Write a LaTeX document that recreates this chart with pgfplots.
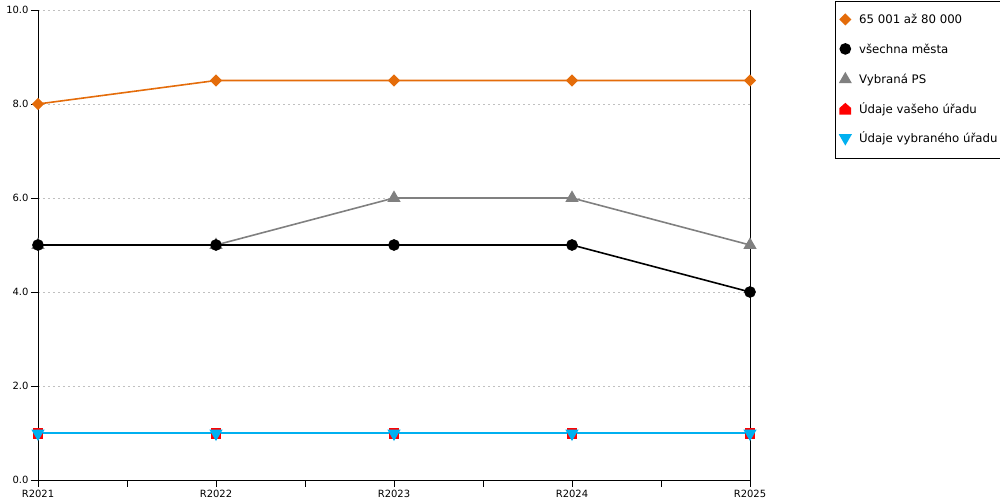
\documentclass[border=0pt]{standalone}
\usepackage{fontspec}
\setmainfont{DejaVu Sans}
\usepackage{pgfplots}
\pgfplotsset{compat=1.18}
\definecolor{corange}{RGB}{228,108,10}
\definecolor{cgray}{RGB}{128,128,128}
\definecolor{cblue}{RGB}{0,176,240}
\definecolor{cred}{RGB}{255,0,0}
\definecolor{cgrid}{RGB}{192,192,192}
\pgfdeclareplotmark{house}{%
  \pgfpathmoveto{\pgfqpoint{-0.85\pgfplotmarksize}{-0.8\pgfplotmarksize}}%
  \pgfpathlineto{\pgfqpoint{0.85\pgfplotmarksize}{-0.8\pgfplotmarksize}}%
  \pgfpathlineto{\pgfqpoint{0.85\pgfplotmarksize}{0.1\pgfplotmarksize}}%
  \pgfpathlineto{\pgfqpoint{0pt}{0.85\pgfplotmarksize}}%
  \pgfpathlineto{\pgfqpoint{-0.85\pgfplotmarksize}{0.1\pgfplotmarksize}}%
  \pgfpathclose
  \pgfusepathqfillstroke}
\begin{document}
\begin{tikzpicture}
\useasboundingbox (-38bp,-20bp) rectangle (962bp,480bp);
\begin{axis}[
  at={(0,0)}, anchor=south west,
  scale only axis, width=712bp, height=470bp,
  xmin=0, xmax=4, ymin=0, ymax=10,
  axis x line=bottom, axis y line=left,
  axis line style={-, black, line width=0.8bp},
  xtick={0,1,2,3,4},
  xticklabels={R2021,R2022,R2023,R2024,R2025},
  minor xtick={0.5,1.5,2.5,3.5},
  ytick={0,2,4,6,8,10},
  tick align=outside,
  major tick length=7bp, minor tick length=7bp,
  tick style={black, line width=0.8bp},
  ymajorgrids,
  grid style={cgrid, dash pattern=on 2bp off 3bp, line width=0.8bp},
  yticklabel style={/pgf/number format/fixed, /pgf/number format/fixed zerofill, /pgf/number format/precision=1, font=\fontsize{10}{12}\selectfont, xshift=1bp},
  xticklabel style={font=\fontsize{10}{12}\selectfont, yshift=0bp},
  /pgf/number format/assume math mode=true,
  clip=false,
  legend style={at={(1.119,1.019)}, anchor=north west, draw=black, line width=0.8bp,
    font=\fontsize{11.8}{13}\selectfont, row sep=17bp, inner xsep=5bp, inner ysep=13bp,
    nodes={inner xsep=0bp, inner ysep=0bp, text height=9bp, text depth=3bp}},
  legend cell align=left,
  legend image code/.code={\path (0bp,0bp) (14bp,0bp); \draw[#1] plot coordinates {(1bp,1.5bp)};},
  every axis plot/.append style={line width=1.6bp},
]
\addlegendimage{only marks, mark=square*, mark options={rotate=45}, color=corange, mark size=3.5bp}
\addlegendentry{65 001 až 80 000}
\addlegendimage{only marks, mark=*, color=black, mark size=5bp}
\addlegendentry{všechna města}
\addlegendimage{only marks, mark=triangle*, color=cgray, mark size=6bp}
\addlegendentry{Vybraná PS}
\addlegendimage{only marks, mark=house, color=cred, mark size=6bp}
\addlegendentry{Údaje vašeho úřadu}
\addlegendimage{only marks, mark=triangle*, mark options={rotate=180}, color=cblue, mark size=6bp}
\addlegendentry{Údaje vybraného úřadu}

\draw[black, line width=0.8bp] (rel axis cs:1,0) -- (rel axis cs:1,1);

\addplot[forget plot, color=corange, mark=square*, mark options={rotate=45}, mark size=3.6bp] coordinates {(0,8) (1,8.5) (2,8.5) (3,8.5) (4,8.5)};
\addplot[forget plot, color=cgray, mark=triangle*, mark size=6bp] coordinates {(0,5) (1,5) (2,6) (3,6) (4,5)};
\addplot[forget plot, color=black, mark=*, mark size=5bp] coordinates {(0,5) (1,5) (2,5) (3,5) (4,4)};
\addplot[forget plot, color=cred, mark=square*, mark size=4.5bp, mark options={yshift=-0.5bp}] coordinates {(0,1) (1,1) (2,1) (3,1) (4,1)};
\addplot[forget plot, color=cblue, mark=triangle*, mark options={rotate=180, yshift=0.5bp}, mark size=6bp] coordinates {(0,1) (1,1) (2,1) (3,1) (4,1)};
\end{axis}
\end{tikzpicture}
\end{document}
